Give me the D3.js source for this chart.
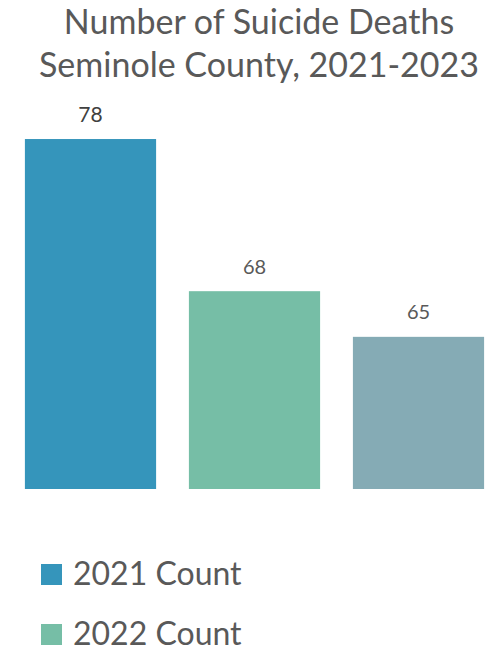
<!DOCTYPE html>
<html>
<head>
<meta charset="utf-8">
<script src="https://cdn.jsdelivr.net/npm/d3@7"></script>
<style>
  html, body { margin: 0; padding: 0; background: #fff; }
  svg { display: block; }
  text { font-family: Lato, "Open Sans", sans-serif; }
</style>
</head>
<body>
<svg id="chart" width="492" height="647"></svg>
<script>
const titleLines = ["Number of Suicide Deaths", "Seminole County, 2021-2023"];
const seriesNames = ["2021 Count", "2022 Count", "2023 Count"];
const seriesValues = [78, 68, 65];
const seriesColors = ["#3595BB", "#76BEA6", "#85ABB5"];
const yDomain = [55, 80];

const svg = d3.select("#chart");
const W = 492, H = 647;

svg.append("rect").attr("width", W).attr("height", H).attr("fill", "#fff");

// Title
const title = svg.append("text")
  .attr("text-anchor", "middle")
  .attr("fill", "#595959")
  .style("font-size", "34px");
titleLines.forEach((t, i) => {
  title.append("tspan").attr("x", 259).attr("y", 34 + i * 43).text(t);
});

// Scales
const x = d3.scaleBand().domain(seriesNames).range([8.5, 500.5]).paddingInner(0.2).paddingOuter(0.1);
const y = d3.scaleLinear().domain(yDomain).range([489, 108.6]);

const data = seriesNames.map((s, i) => ({ name: s, value: seriesValues[i], color: seriesColors[i] }));

svg.append("g").selectAll("rect").data(data).join("rect")
  .attr("x", d => x(d.name))
  .attr("y", d => y(d.value))
  .attr("width", x.bandwidth())
  .attr("height", d => y(yDomain[0]) - y(d.value))
  .attr("fill", d => d.color);

svg.append("g").selectAll("text").data(data).join("text")
  .attr("x", d => x(d.name) + x.bandwidth() / 2)
  .attr("y", d => y(d.value) - 17.5)
  .attr("text-anchor", "middle")
  .attr("fill", (d, i) => i === 0 ? "#404040" : "#595959")
  .style("font-size", (d, i) => i === 0 ? "21px" : "20px")
  .text(d => d.value);

// Legend (rows continue past the bottom edge; only rows that fit are drawn)
const legendTop = 564, legendStep = 60;
const legendData = data.filter((d, i) => legendTop + i * legendStep + 21 <= H);
const items = svg.append("g").selectAll("g").data(legendData).join("g")
  .attr("transform", (d, i) => `translate(41, ${legendTop + i * legendStep})`);
items.append("rect").attr("width", 21).attr("height", 21).attr("fill", d => d.color);
items.append("text")
  .attr("x", 32).attr("y", 21)
  .attr("fill", "#595959")
  .style("font-size", "32px")
  .text(d => d.name);
</script>
</body>
</html>
